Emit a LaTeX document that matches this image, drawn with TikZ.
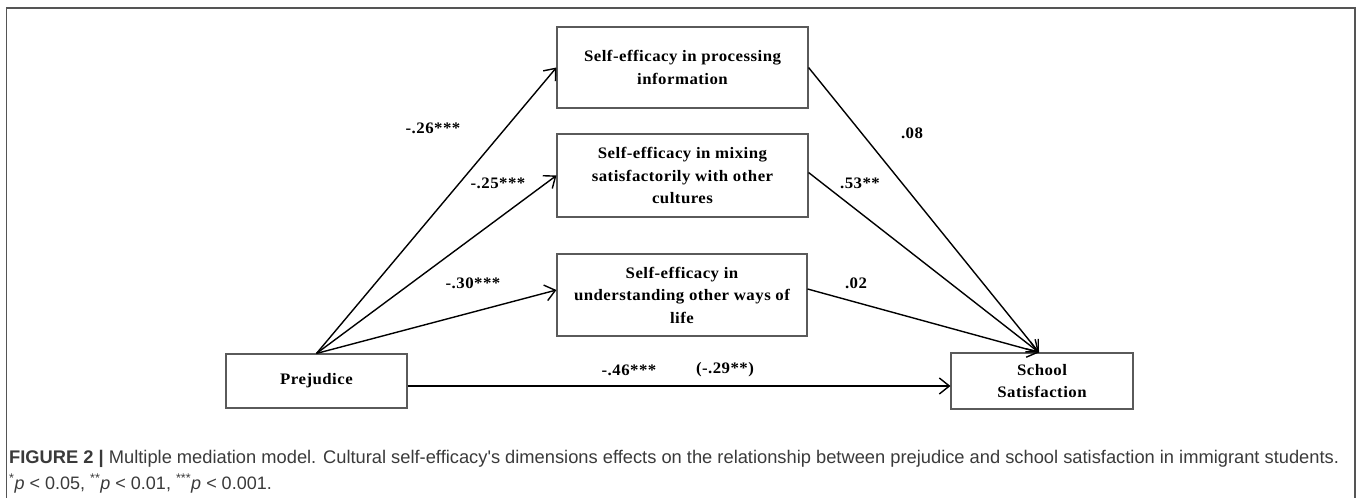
\documentclass[tikz,border=0pt]{standalone}
\usepackage{fontspec}
\setmainfont{Liberation Serif}
\newfontfamily\diagfont{Liberation Serif}[FakeStretch=1.05,LetterSpace=3]
\newfontfamily\capfont{Liberation Sans}
\usetikzlibrary{arrows.meta}
\definecolor{framegray}{HTML}{555555}
\definecolor{boxgray}{HTML}{5A5A5A}
\definecolor{captext}{HTML}{3A3A3A}

\begin{document}
\begin{tikzpicture}[x=1pt, y=-1pt,
    box/.style={draw=boxgray, line width=1.1pt, inner sep=0pt, align=center,
        font=\diagfont\bfseries\fontsize{16}{22.5}\selectfont},
    coef/.style={inner sep=0pt, font=\diagfont\bfseries\fontsize{16}{20}\selectfont},
    arr/.style={line width=1.4pt, -{Straight Barb[length=10pt,width=16pt,line width=1.4pt]}},
    capline/.style={anchor=base west, inner sep=0pt, text=captext}]
\useasboundingbox (0,0) rectangle (1358,498);
% frame
\draw[framegray, line width=1.4pt] (6.5,505) -- (6.5,8) -- (1355,8) -- (1355,505);

% boxes
\node[box, minimum width=251pt, minimum height=81pt] (proc) at (682.5,67.5) {Self-efficacy in processing\\information};
\node[box, minimum width=251pt, minimum height=83pt] (mix) at (682.5,175.5) {Self-efficacy in mixing\\satisfactorily with other\\cultures};
\node[box, minimum width=250pt, minimum height=82pt] (und) at (682,295) {Self-efficacy in\\understanding other ways of\\life};
\node[box, minimum width=181pt, minimum height=54pt] (prej) at (316.5,381) {Prejudice};
\node[box, minimum width=182pt, minimum height=56pt] (sat) at (1042,381) {School\\Satisfaction};

% paths a
\draw[arr] (prej.north) -- (proc.west);
\draw[arr] (prej.north) -- (mix.west);
\draw[arr] (prej.north) -- ([yshift=5pt]und.west);
% paths b
\draw[arr] (proc.east) -- ([xshift=-3pt]sat.north);
\draw[arr] ([yshift=3pt]mix.east) -- ([xshift=-3pt]sat.north);
\draw[arr] ([yshift=6pt]und.east) -- ([xshift=-3pt]sat.north);
% path c
\draw[arr] ([yshift=-5pt]prej.east) -- ([yshift=-5pt]sat.west);

% coefficients
\node[coef] (ca1) at (433,128) {-.26***};
\node[coef] (ca2) at (498,183) {-.25***};
\node[coef] (ca3) at (473,283) {-.30***};
\node[coef] (cb1) at (912,133) {.08};
\node[coef] (cb2) at (860,183) {.53**};
\node[coef] (cb3) at (856,283) {.02};
\node[coef] (cc) at (629,370) {-.46***};
\node[coef] (ccp) at (725,370) {(-.29**)};

% caption
\node[capline, font=\capfont\fontsize{18.3}{26}\selectfont] (cap1) at (9,463) {{\bfseries FIGURE 2 |} Multiple mediation model. Cultural self-efficacy's dimensions effects on the relationship between prejudice and school satisfaction in immigrant students.};
\node[capline, font=\capfont\fontsize{18}{26}\selectfont] (cap2) at (9,489) {\textsuperscript{*}\textit{p} < 0.05, \textsuperscript{**}\textit{p} < 0.01, \textsuperscript{***}\textit{p} < 0.001.};
\end{tikzpicture}
\end{document}
